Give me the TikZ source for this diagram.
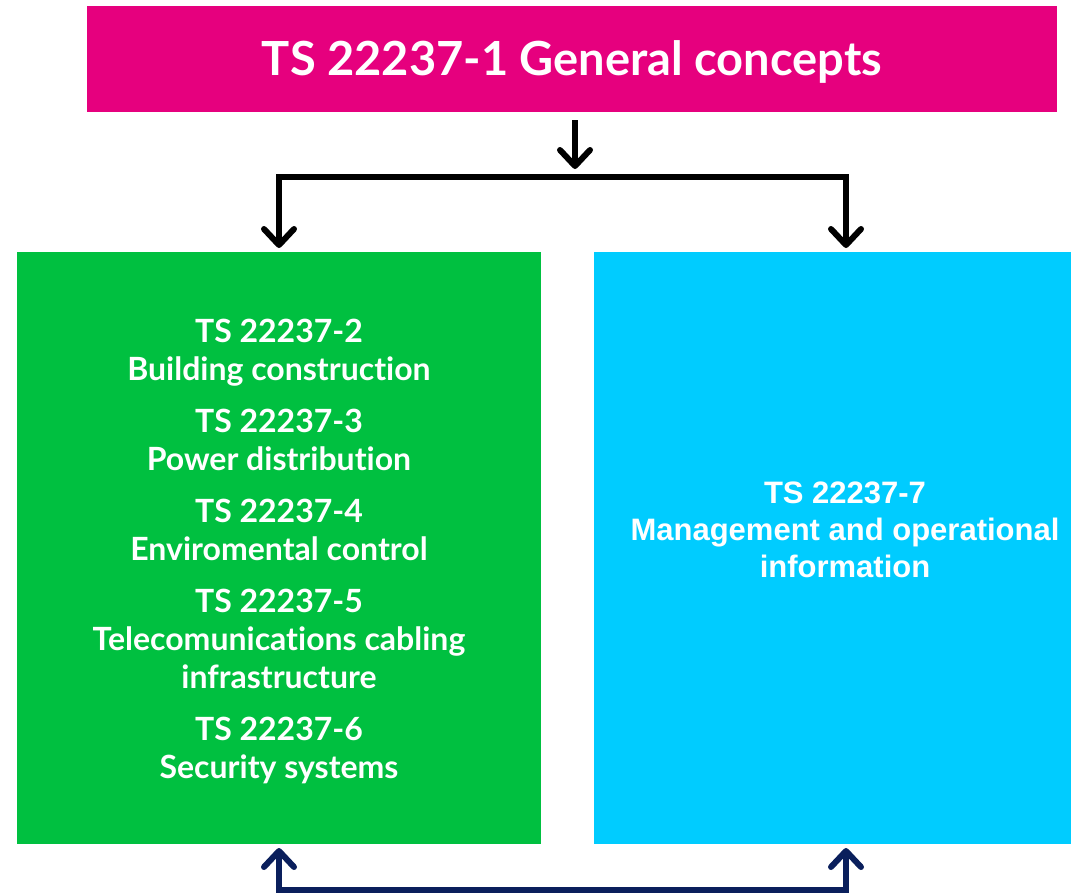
\documentclass[tikz,border=0pt]{standalone}
\usepackage{fontspec}
\setmainfont{Lato}[Ligatures={NoCommon,NoContextual}]
\newfontfamily\arialfont{Liberation Sans}
\usetikzlibrary{arrows.meta}
\definecolor{topmag}{HTML}{E6007E}
\definecolor{boxgreen}{HTML}{00C040}
\definecolor{boxblue}{HTML}{00CCFF}
\definecolor{navy}{HTML}{0A1F5C}
\begin{document}
\begin{tikzpicture}[x=1pt,y=-1pt,
  panel/.style={draw=none,inner sep=0pt,outer sep=0pt},
  arr/.style={line width=6pt,-{Straight Barb[length=16pt,width=30pt,line width=6pt,round]}},
  link/.style={line width=6pt}]
\useasboundingbox (0,0) rectangle (1071,895);
\fill[white] (0,0) rectangle (1071,895);
% panels
\fill[topmag] (87,6) rectangle (1057,112);
\fill[boxgreen] (17,252) rectangle (541,844);
\fill[boxblue] (594,252) rectangle (1071,844);
\node[panel,text=white,font=\bfseries\fontsize{47}{52}\selectfont] (title) at (572,62) {TS 22237-1 General concepts};
\node[panel,text=white,align=center,font=\bfseries\fontsize{32}{38}\selectfont] (green) at (279,551)
 {TS 22237-2\\Building construction\\[14pt]TS 22237-3\\Power distribution\\[14pt]TS 22237-4\\Enviromental control\\[14pt]TS 22237-5\\Telecomunications cabling\\infrastructure\\[14pt]TS 22237-6\\Security systems};
\node[panel,text=white,align=center,font=\arialfont\bfseries\fontsize{31}{37}\selectfont] (blue) at (845,530)
 {TS 22237-7\\Management and operational\\information};
% connectors
\coordinate (t0) at (575,120);
\coordinate (t1) at (575,169);
\coordinate (hL) at (279,177);
\coordinate (hR) at (846,177);
\coordinate (gT) at (279,248);
\coordinate (bT) at (846,248);
\coordinate (gB) at (279,848);
\coordinate (bB) at (846,848);
\coordinate (lL) at (279,890);
\coordinate (lR) at (846,890);
\draw[arr] (t0) -- (t1);
\draw[link,line cap=rect] (hL) -- (hR);
\draw[arr] (hL) -- (gT);
\draw[arr] (hR) -- (bT);
\draw[link,navy,line cap=rect] (lL) -- (lR);
\draw[arr,navy] (lL) -- (gB);
\draw[arr,navy] (lR) -- (bB);
\end{tikzpicture}
\end{document}
